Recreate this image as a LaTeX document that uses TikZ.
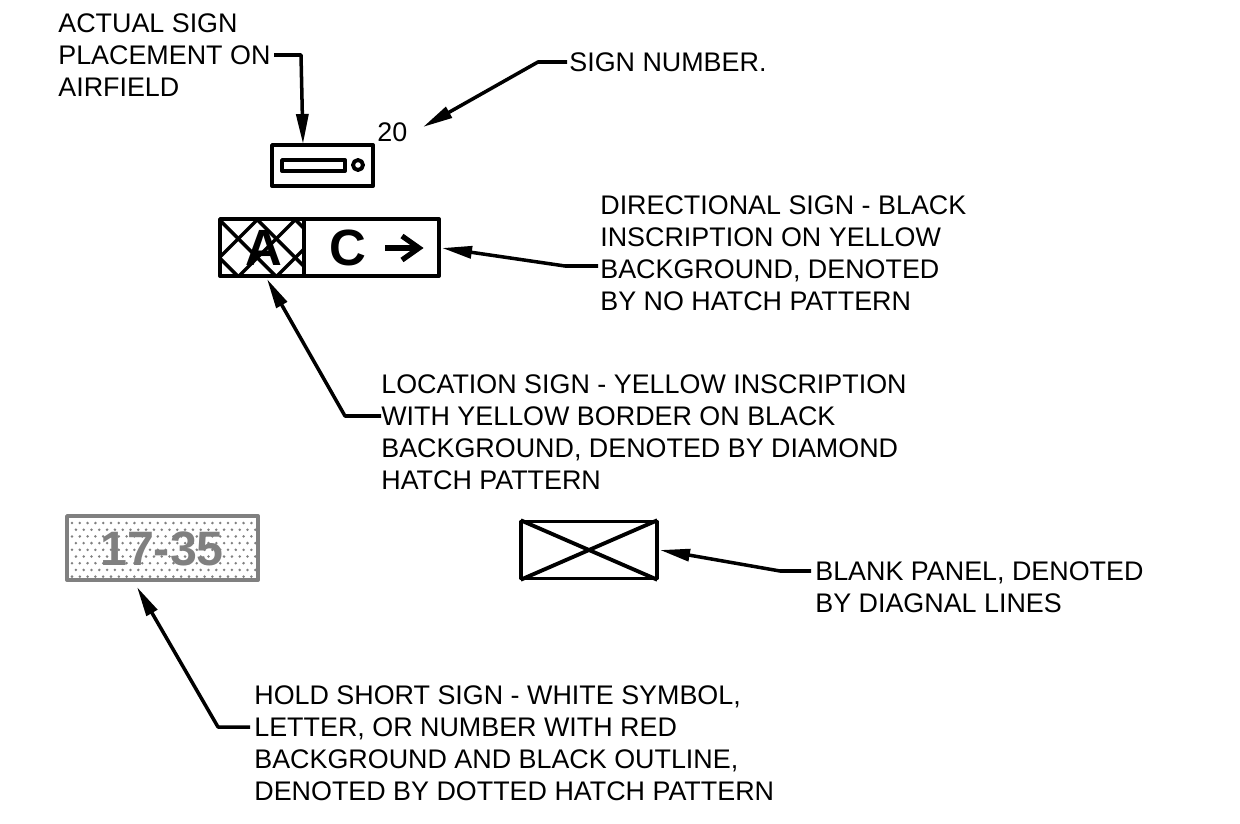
\documentclass[tikz,border=0pt]{standalone}
\usepackage{fontspec}
\setmainfont{Liberation Sans}
\usetikzlibrary{arrows.meta, positioning, calc}
\definecolor{SignBlack}{HTML}{000000}
\definecolor{HoldGray}{HTML}{808080}
\tikzset{
    note/.style={
        anchor=west,
        inner sep=0pt,
        text=SignBlack,
        font=\fontsize{15.3}{18.2}\selectfont,
        align=left
    },
    leader/.style={
        -{Triangle[length=0.6cm,width=0.24cm]},
        line width=2pt,
        line join=round,
        SignBlack
    },
    panel/.style={
        draw=SignBlack,
        line width=2.2pt,
        line join=round
    },
    hatchline/.style={
        draw=SignBlack,
        line width=2pt
    },
    signtext/.style={
        inner sep=0pt,
        font=\fontsize{29}{29}\selectfont\bfseries
    }
}
\begin{document}
\begin{tikzpicture}[x=0.02cm,y=-0.02cm]
        \useasboundingbox (0,0) rectangle (1240,824);

        % top sign
        \draw[panel] (272,145) rectangle (373,186);
        \draw[panel] (282,160) rectangle (345,171);
        \draw[panel] (358,165) circle (5);
        \node[note] (signnumber) at (377,132) {20};

        % directional and location sign
        \begin{scope}
            \clip (220,219) rectangle (304,276);
            \foreach \i in {-2,...,3} {
                \draw[hatchline] ({218.7+\i*38},219) -- ({218.7+\i*38+57},276);
                \draw[hatchline] ({258+\i*38},219) -- ({258+\i*38-57},276);
            }
        \end{scope}
        \draw[panel] (220,219) rectangle (439,276);
        \draw[panel] (304,219) -- (304,276);
        \node[signtext] (lettera) at (264,248) {A};
        \node[signtext] (letterc) at (348,248) {C};
        \coordinate (arrowstart) at (385,248);
        \coordinate (arrowend) at (419,248);
        \draw[line width=3pt] (arrowstart) -- (arrowend);
        \draw[line width=3pt] (402,236) -- (arrowend) -- (402,260);

        % hold short sign
        \foreach \i in {0,...,23} {
            \foreach \j in {0,...,8} {
                \fill[HoldGray] ({72+\i*7.8+mod(\j,2)*3.9},{523+\j*6.7}) circle (1.4);
            }
        }
        \draw[HoldGray, line width=2.2pt, line join=round] (67,516) rectangle (258,580);
        \node[signtext, text=HoldGray, font=\fontsize{27.5}{28}\selectfont\bfseries] (holdtext) at (162,549) {17-35};

        % blank panel
        \node[panel, minimum width=2.72cm, minimum height=1.14cm, inner sep=0pt] (blank) at (589,550) {};
        \draw[panel, shorten <=1pt, shorten >=1pt] (blank.north west) -- (blank.south east);
        \draw[panel, shorten <=1pt, shorten >=1pt] (blank.south west) -- (blank.north east);

        % notes
        \node[note] (actualnote) at (58,55) {ACTUAL SIGN\\PLACEMENT ON\\AIRFIELD};
        \node[note] (numbernote) at (569,62) {SIGN NUMBER.};
        \node[note] (directionnote) at (600,253) {DIRECTIONAL SIGN - BLACK\\INSCRIPTION ON YELLOW\\BACKGROUND, DENOTED\\BY NO HATCH PATTERN};
        \node[note] (locationnote) at (381,432) {LOCATION SIGN - YELLOW INSCRIPTION\\WITH YELLOW BORDER ON BLACK\\BACKGROUND, DENOTED BY DIAMOND\\HATCH PATTERN};
        \node[note] (blanknote) at (815,587) {BLANK PANEL, DENOTED\\BY DIAGNAL LINES};
        \node[note] (holdnote) at (254,743) {HOLD SHORT SIGN - WHITE SYMBOL,\\LETTER, OR NUMBER WITH RED\\BACKGROUND AND BLACK OUTLINE,\\DENOTED BY DOTTED HATCH PATTERN};

        % leaders
        \coordinate (actualstart) at (274,55);
        \coordinate (numberstart) at (567,62);
        \coordinate (directionstart) at (598,266);
        \coordinate (locationstart) at (381,416);
        \coordinate (blankstart) at (811,571);
        \coordinate (holdstart) at (250,727);
        \draw[leader] (actualstart) -- (301,55) -- (303,144);
        \draw[leader] (numberstart) -- (538,62) -- (423,127);
        \draw[leader] (directionstart) -- (565,266) -- (442,248);
        \draw[leader] (locationstart) -- (345,416) -- (267,279);
        \draw[leader] (blankstart) -- (780,571) -- (660,550);
        \draw[leader] (holdstart) -- (218,727) -- (137,587);
    \end{tikzpicture}
\end{document}
